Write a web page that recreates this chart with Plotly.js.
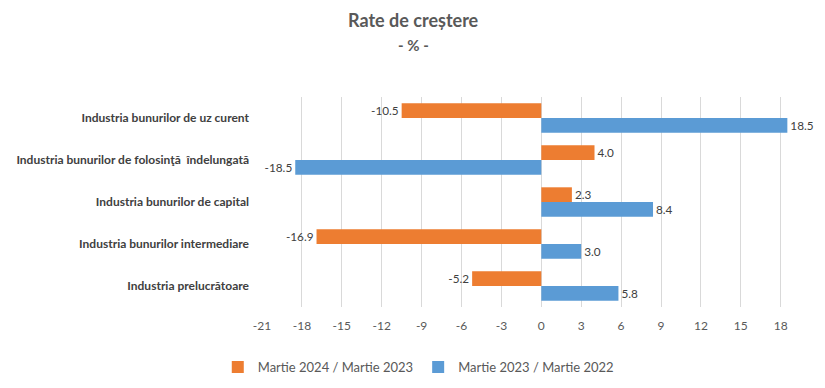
<!DOCTYPE html>
<html><head><meta charset="utf-8">
<script src="https://cdn.plot.ly/plotly-3.0.1.min.js"></script>
<style>html,body{margin:0;padding:0;background:#fff}#chart{width:825px;height:388px}</style>
</head><body><div id="chart"></div>
<script>
var categories = ["Industria bunurilor de uz curent", "Industria bunurilor de folosinţă  îndelungată", "Industria bunurilor de capital", "Industria bunurilor intermediare", "Industria prelucrătoare"];
var series2024 = [-10.5, 4.0, 2.3, -16.9, -5.2];
var series2023 = [18.5, -18.5, 8.4, 3.0, 5.8];
var seriesNames = ["Martie 2024 / Martie 2023", "Martie 2023 / Martie 2022"];
var tickVals = [-21, -18, -15, -12, -9, -6, -3, 0, 3, 6, 9, 12, 15, 18];

var font = "Lato, 'Open Sans', sans-serif";
var traces = [
  {type:'bar', orientation:'h', name:seriesNames[0], y:categories, x:series2024,
   marker:{color:'#ED7D31'}, texttemplate:'%{x:.1f}', textposition:'outside',
   textfont:{family:font, size:12, color:'#404040'}, cliponaxis:false, hoverinfo:'x'},
  {type:'bar', orientation:'h', name:seriesNames[1], y:categories, x:series2023,
   marker:{color:'#5B9BD5'}, texttemplate:'%{x:.1f}', textposition:'outside',
   textfont:{family:font, size:12, color:'#404040'}, cliponaxis:false, hoverinfo:'x'}
];
var layout = {
  width:825, height:388,
  margin:{l:262, r:31, t:97, b:81},
  paper_bgcolor:'#fff', plot_bgcolor:'#fff',
  font:{family:font, color:'#595959'},
  barmode:'group', bargap:0.3, bargroupgap:0,
  showlegend:true,
  legend:{orientation:'h', xref:'container', yref:'container', x:0.507, xanchor:'center', y:0.054, yanchor:'middle',
          font:{family:font, size:13, color:'#595959'}, traceorder:'normal', itemwidth:30},
  xaxis:{range:[-21, 19], tickvals:tickVals, ticktext:tickVals.map(String), showgrid:true, gridcolor:'#d9d9d9', gridwidth:1,
         zeroline:false, showline:false, ticks:'', ticklabelstandoff:10, tickfont:{family:font, size:12, color:'#595959'}, fixedrange:true},
  yaxis:{autorange:'reversed', type:'category', showgrid:false, zeroline:false, showline:false, ticks:'', ticklen:0,
         ticklabelstandoff:12, tickfont:{family:font, size:12, color:'#404040', weight:'bold'}, automargin:false},
  annotations:[
    {text:'<b>Rate de creștere</b>', xref:'paper', yref:'paper', x:0, xshift:413-262, y:1.367, showarrow:false,
     xanchor:'center', yanchor:'middle', font:{family:font, size:18, color:'#595959'}},
    {text:'<b>- % -</b>', xref:'paper', yref:'paper', x:0, xshift:413-262, y:1.248, showarrow:false,
     xanchor:'center', yanchor:'middle', font:{family:font, size:15, color:'#595959'}}
  ]
};
Plotly.newPlot('chart', traces, layout, {displayModeBar:false, staticPlot:true});
</script></body></html>
